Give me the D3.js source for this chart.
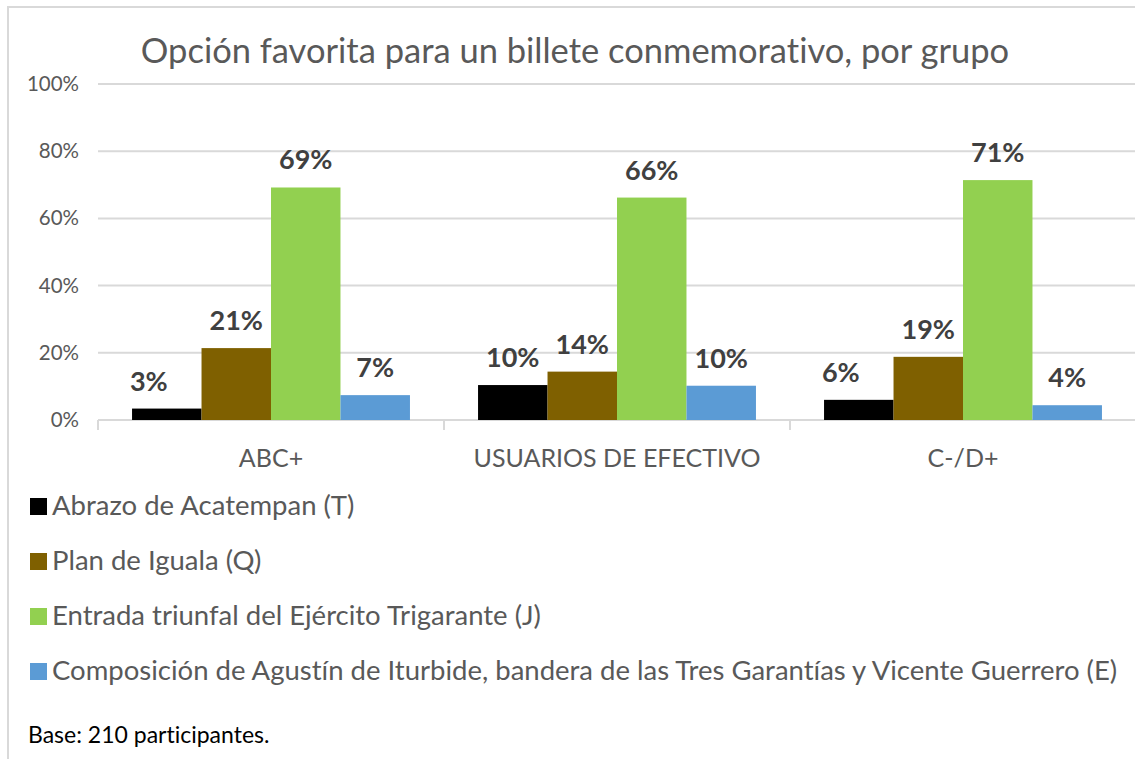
<!DOCTYPE html>
<meta charset="utf-8">
<head>
    <title>Opción favorita</title>
    <script src="https://cdn.jsdelivr.net/npm/d3@7"></script>
    <style>
        body { margin: 0; background: #fff; }
        text { font-family: Lato, "Open Sans", sans-serif; font-variant-ligatures: none; font-feature-settings: "liga" 0, "clig" 0, "dlig" 0; }
    </style>
</head>
<body>
<script>

// data
var groups = ["ABC+", "USUARIOS DE EFECTIVO", "C-/D+"]
var series = ["Abrazo de Acatempan (T)",
              "Plan de Iguala (Q)",
              "Entrada triunfal del Ejército Trigarante (J)",
              "Composición de Agustín de Iturbide, bandera de las Tres Garantías y Vicente Guerrero (E)"]
var colors = ["#000000", "#7f6000", "#92d050", "#5b9bd5"]
var abcValues = [0.034, 0.214, 0.692, 0.074]
var usuariosValues = [0.104, 0.144, 0.662, 0.102]
var cdValues = [0.060, 0.188, 0.714, 0.044]
var yTicks = [0, 0.2, 0.4, 0.6, 0.8, 1]

var values = [abcValues, usuariosValues, cdValues]

// svg
var w = 1135
var h = 759
var svg = d3.select("body").append("svg").attr("width", w).attr("height", h)

// frame
svg.append("path")
    .attr("d", "M8," + h + "V7H" + w)
    .style("fill", "none")
    .style("stroke", "#d9d9d9")
    .style("stroke-width", 2)

// scales
var x0 = d3.scaleBand().domain(groups).range([98, 1136]).paddingInner(0).paddingOuter(0)
var x1 = d3.scaleBand().domain(d3.range(series.length)).range([0, x0.bandwidth()]).paddingOuter(0.49)
var y = d3.scaleLinear().domain([0, 1]).range([420, 84])
var pct = d3.format(".0%")

// title
svg.append("text")
    .attr("x", 575)
    .attr("y", 63)
    .attr("text-anchor", "middle")
    .style("font-size", "34.5px")
    .style("fill", "#595959")
    .text("Opción favorita para un billete conmemorativo, por grupo")

// gridlines + y labels
svg.append("g").selectAll("line")
    .data(yTicks).enter()
    .append("line")
    .attr("x1", 98).attr("x2", w)
    .attr("y1", function(d) { return y(d) }).attr("y2", function(d) { return y(d) })
    .style("stroke", "#d9d9d9")
    .style("stroke-width", 2)

svg.append("g").selectAll("text")
    .data(yTicks).enter()
    .append("text")
    .attr("x", 79)
    .attr("y", function(d) { return y(d) + 7 })
    .attr("text-anchor", "end")
    .style("font-size", "20.5px")
    .style("fill", "#595959")
    .text(pct)

// category ticks
svg.append("g").selectAll("line")
    .data(groups.concat(["end"])).enter()
    .append("line")
    .attr("x1", function(d, i) { return 98 + i * x0.bandwidth() })
    .attr("x2", function(d, i) { return 98 + i * x0.bandwidth() })
    .attr("y1", 420).attr("y2", 430)
    .style("stroke", "#d9d9d9")
    .style("stroke-width", 2)

svg.append("g").selectAll("text")
    .data(groups).enter()
    .append("text")
    .attr("x", function(d) { return x0(d) + x0.bandwidth() / 2 })
    .attr("y", 467)
    .attr("text-anchor", "middle")
    .style("font-size", "25px")
    .style("fill", "#595959")
    .text(function(d) { return d })

// bars
var gs = svg.append("g").selectAll("g")
    .data(groups).enter()
    .append("g")
    .attr("transform", function(d) { return "translate(" + x0(d) + ",0)" })

gs.selectAll("rect")
    .data(function(d, gi) { return values[gi] }).enter()
    .append("rect")
    .attr("x", function(d, i) { return x1(i) })
    .attr("width", x1.bandwidth())
    .attr("y", function(d) { return y(d) })
    .attr("height", function(d) { return y(0) - y(d) })
    .style("fill", function(d, i) { return colors[i] })

// labels (excel nudges the small first-series labels left)
gs.selectAll("text")
    .data(function(d, gi) { return values[gi] }).enter()
    .append("text")
    .attr("x", function(d, i) {
        var cx = x1(i) + x1.bandwidth() / 2
        if (i == 0 && d < 0.08) cx -= 18
        return cx })
    .attr("y", function(d) { return y(d) - 18 })
    .attr("text-anchor", "middle")
    .style("font-size", "27px")
    .style("font-weight", "bold")
    .style("fill", "#404040")
    .text(pct)

// legend
var leg = svg.append("g").selectAll("g")
    .data(series).enter()
    .append("g")
    .attr("transform", function(d, i) { return "translate(30," + (498 + i * 55) + ")" })

leg.append("rect")
    .attr("width", 17).attr("height", 17)
    .style("fill", function(d, i) { return colors[i] })

leg.append("text")
    .attr("x", 22)
    .attr("y", 17)
    .style("font-size", "27.5px")
    .style("fill", "#595959")
    .text(function(d) { return d })

svg.append("text")
    .attr("x", 28)
    .attr("y", 743)
    .style("font-size", "23px")
    .style("fill", "#000")
    .text("Base: 210 participantes.")

</script>
</body>
</html>
